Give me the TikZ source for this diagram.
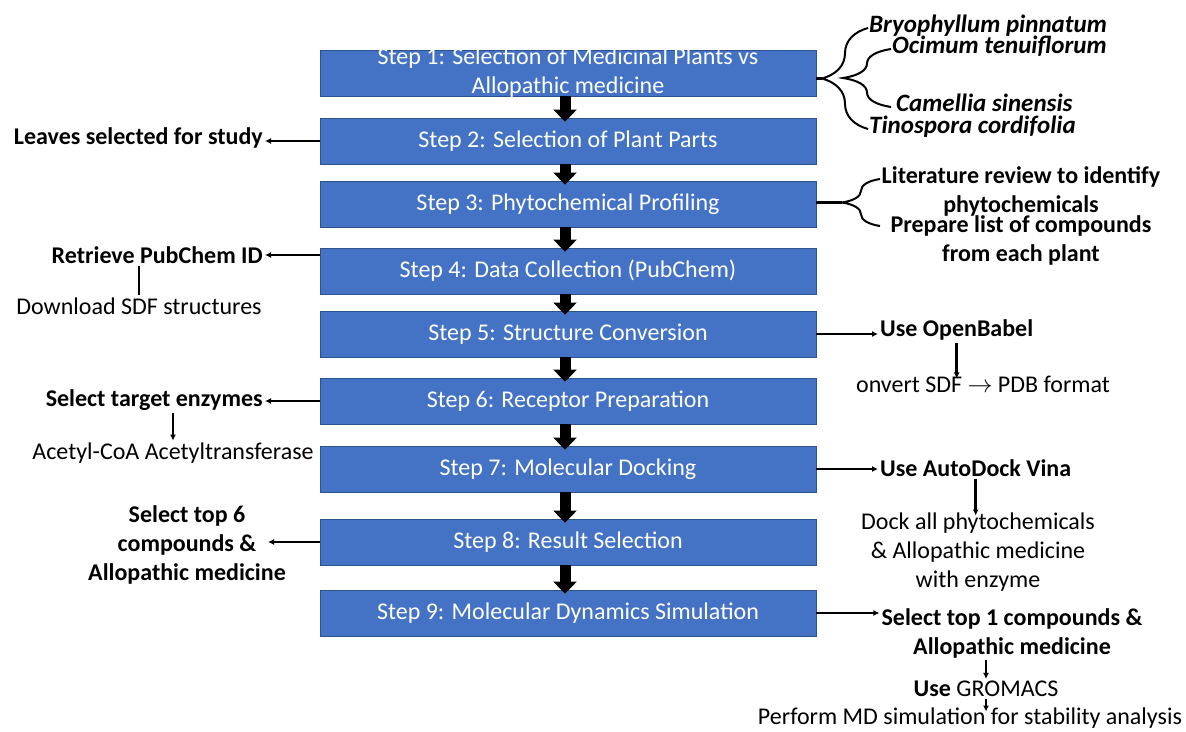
\documentclass[tikz,border=0pt]{standalone}
\usepackage{fontspec}
\setmainfont{Carlito}
\usetikzlibrary{arrows.meta, decorations.pathreplacing}
\definecolor{stepblue}{HTML}{4472C4}
\definecolor{stepedge}{HTML}{2F528F}

\begin{document}
\begin{tikzpicture}[
    x=1pt, y=-1pt,
    >={Latex[length=6pt,width=6pt]},
    stepbox/.style={draw=stepedge, line width=0.8pt, fill=stepblue, text=white, minimum width=496pt, minimum height=46pt, inner sep=0pt, align=center, font=\fontsize{24}{29}\selectfont},
    steplabel/.style={text=white, inner sep=0pt, align=center, font=\fontsize{24}{29}\selectfont},
    note/.style={align=center, inner sep=2pt, font=\fontsize{24}{29}\selectfont\bfseries},
    info/.style={align=center, inner sep=2pt, font=\fontsize{24}{29}\selectfont},
    plant/.style={anchor=west, inner sep=1pt, text height=13pt, text depth=4pt, font=\fontsize{25}{28}\selectfont\bfseries\itshape},
    flow/.style={line width=11pt, -{Triangle[width=23pt,length=12pt]}},
    link/.style={->, line width=2.5pt},
    tick/.style={line width=2.5pt},
    curly/.style={line width=2pt, decorate, decoration={brace, amplitude=#1}}
]
\useasboundingbox (0,0) rectangle (1186,731);

% Steps
\node[stepbox] (s1) at (568,73) {};
\node[steplabel] (s1text) at (s1) {Step 1: Selection of Medicinal Plants vs\\Allopathic medicine};
\node[stepbox] (s2) at (568,141) {Step 2: Selection of Plant Parts};
\node[stepbox] (s3) at (568,204) {Step 3: Phytochemical Profiling};
\node[stepbox] (s4) at (568,271) {Step 4: Data Collection (PubChem)};
\node[stepbox] (s5) at (568,334) {Step 5: Structure Conversion};
\node[stepbox] (s6) at (568,401) {Step 6: Receptor Preparation};
\node[stepbox] (s7) at (568,469) {Step 7: Molecular Docking};
\node[stepbox] (s8) at (568,542) {Step 8: Result Selection};
\node[stepbox] (s9) at (568,613) {Step 9: Molecular Dynamics Simulation};

% Arrows between steps
\foreach \a/\b in {s1/s2, s2/s3, s3/s4, s4/s5, s5/s6, s6/s7, s7/s8, s8/s9}
    \draw[flow] ([xshift=-3pt]\a.south) -- ([xshift=-3pt, yshift=-4pt]\b.north);

% Step 1: plants
\node[plant] (bryo) at (868,28) {Bryophyllum pinnatum};
\node[plant] (ocim) at (891,49) {Ocimum tenuiflorum};
\node[plant] (came) at (895,107) {Camellia sinensis};
\node[plant] (tino) at (868,129) {Tinospora cordifolia};
\draw[curly=46] (tino.west) -- (bryo.west);
\draw[curly=48] (ocim.west |- came.west) -- (ocim.west);
\coordinate (c1) at (822,78.5);
\draw[tick] (s1.east |- c1) -- (c1);

% Step 2
\node[note, anchor=east] (leaves) at (265,138) {Leaves selected for study};
\draw[link] (s2.west) -- (s2.west -| leaves.east);

% Step 3
\node[note, inner sep=0pt] (lit) at (1021,191) {Literature review to identify\\phytochemicals};
\node[note, inner sep=0pt] (prep) at (1021,240) {Prepare list of compounds\\from each plant};
\coordinate (b3top) at (880,179);
\coordinate (b3bot) at (880,226);
\draw[curly=38] (b3bot) -- (b3top);
\coordinate (c3) at (842,202.5);
\draw[tick] (s3.east |- c3) -- (c3);

% Step 4
\node[note, anchor=east] (pubid) at (265,255) {Retrieve PubChem ID};
\node[info] (sdf) at (139,306) {Download SDF structures};
\draw[link] (pubid.east -| s4.west) -- (pubid.east);
\draw[tick] (sdf.north |- pubid.south) -- (sdf.north);

% Step 5
\node[note, anchor=west] (babel) at (878,330) {Use OpenBabel};
\node[info] (sdfpdb) at (983,384) {onvert SDF $\rightarrow$ PDB format};
\draw[link] (s5.east) -- (s5.east -| babel.west);
\draw[link] (babel.south) -- ([yshift=-5pt]babel.south |- sdfpdb.north);

% Step 6
\node[note, anchor=east] (enz) at (265,400) {Select target enzymes};
\node[info] (acat) at (173,453) {Acetyl-CoA Acetyltransferase};
\draw[link] (s6.west) -- (s6.west -| enz.east);
\draw[link] (acat.north |- enz.south) -- (acat.north);

% Step 7
\node[note, anchor=west] (vina) at (878,468) {Use AutoDock Vina};
\node[info] (dock) at (978,552) {Dock all phytochemicals\\\& Allopathic medicine\\with enzyme};
\draw[link] (s7.east) -- (s7.east -| vina.west);
\draw[link] (vina.south) -- ([yshift=-5pt]vina.south |- dock.north);

% Step 8
\node[note] (top6) at (187,545) {Select top 6\\compounds \&\\Allopathic medicine};
\coordinate (top6end) at (268,545);
\draw[link] (s8.west) -- (s8.west -| top6end);

% Step 9
\node[note] (top1) at (1012,633) {Select top 1 compounds \&\\Allopathic medicine};
\node[info] (gro) at (986,689) {\textbf{Use} GROMACS};
\node[info, inner sep=0pt] (perf) at (970,718) {Perform MD simulation for stability analysis};
\coordinate (perftop) at (gro.south |- perf.north);
\draw[link] (s9.east) -- (s9.east -| top1.west);
\draw[link] (top1.south -| gro.north) -- (gro.north);
\draw[link] (gro.south) -- ([yshift=-4pt]perftop);

\end{tikzpicture}
\end{document}
